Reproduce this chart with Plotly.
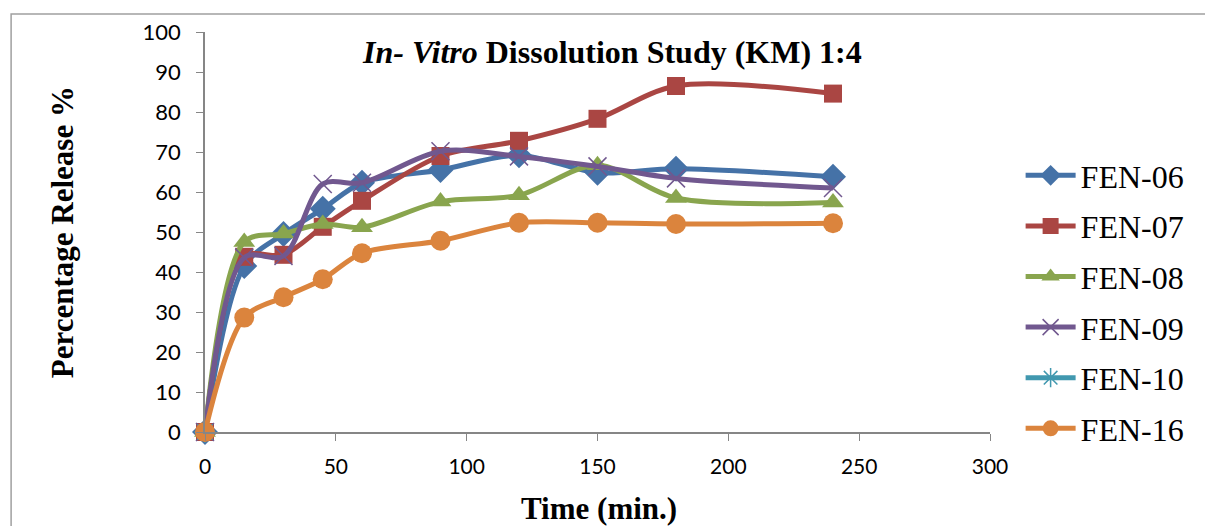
import plotly.graph_objects as go

time_min = [0, 15, 30, 45, 60, 90, 120, 150, 180, 240]
fen06 = [0, 41.5, 49.5, 55.8, 62.3, 65.5, 69.2, 64.8, 65.8, 63.8]
fen07 = [0, 43.8, 44.3, 51.3, 57.8, 69.0, 72.8, 78.3, 86.5, 84.6]
fen08 = [0, 47.5, 49.6, 52.0, 51.2, 57.6, 59.2, 66.7, 58.5, 57.4]
fen09 = [0, 43.6, 44.0, 62.0, 62.3, 70.2, 68.9, 66.4, 63.4, 61.0]
fen10_time = [0]
fen10 = [0]
fen16 = [0, 28.6, 33.7, 38.2, 44.7, 47.8, 52.3, 52.3, 52.0, 52.2]

y_ticks = [0, 10, 20, 30, 40, 50, 60, 70, 80, 90, 100]
x_ticks = [0, 50, 100, 150, 200, 250, 300]

series = [
    ("FEN-06", time_min, fen06, "#4572A7", "diamond", 20),
    ("FEN-07", time_min, fen07, "#AA4643", "square", 18),
    ("FEN-08", time_min, fen08, "#89A54E", "triangle-up", 19),
    ("FEN-09", time_min, fen09, "#71588F", "x-thin", 18),
    ("FEN-10", fen10_time, fen10, "#4198AF", "asterisk", 18),
    ("FEN-16", time_min, fen16, "#DB843D", "circle", 20),
]

fig = go.Figure()
for name, xs, ys, col, sym, sz in series:
    thin = sym in ("x-thin", "asterisk")
    fig.add_trace(go.Scatter(
        x=xs, y=ys, name=name, legendgroup=name,
        mode="lines+markers",
        line=dict(color=col, width=5, shape="spline", smoothing=0.9),
        marker=dict(symbol=sym, size=sz, color=col,
                    line=dict(color=col, width=1.5 if thin else 0)),
        cliponaxis=False,
    ))

fig.update_layout(
    width=1205, height=526,
    margin=dict(l=205, r=215, t=32, b=94),
    paper_bgcolor="white", plot_bgcolor="white",
    showlegend=True,
    legend=dict(
        x=1.039, y=0.71, xanchor="left", yanchor="top",
        font=dict(family="Liberation Serif", size=32, color="black"),
        tracegroupgap=6, itemwidth=50,
        bgcolor="rgba(0,0,0,0)",
    ),
    xaxis=dict(
        range=[0, 300], tickvals=x_ticks, ticktext=[str(v) for v in x_ticks],
        showgrid=False, zeroline=False, showline=True, linecolor="#868686", linewidth=1.5,
        ticks="outside", ticklen=7, tickcolor="#868686", ticklabelstandoff=8,
        tickfont=dict(family="Lato", size=21, color="black"),
    ),
    yaxis=dict(
        range=[0, 100], tickvals=y_ticks, ticktext=[str(v) for v in y_ticks],
        showgrid=False, zeroline=False, showline=True, linecolor="#868686", linewidth=1.5,
        ticks="outside", ticklen=7, tickcolor="#868686", ticklabelstandoff=11,
        tickfont=dict(family="Lato", size=22, color="black"),
    ),
    annotations=[
        dict(text="<b><i>In- Vitro</i> Dissolution Study (KM) 1:4</b>",
             xref="paper", yref="paper", x=0.519, y=0.95, xanchor="center", yanchor="middle",
             showarrow=False, font=dict(family="Liberation Serif", size=32, color="black")),
        dict(text="<b>Time (min.)</b>",
             xref="paper", yref="paper", x=0.502, y=-0.19, xanchor="center", yanchor="middle",
             showarrow=False, font=dict(family="Liberation Serif", size=31, color="black")),
        dict(text="<b>Percentage Release %</b>", textangle=-90,
             xref="paper", yref="paper", x=-0.182, y=0.5, xanchor="center", yanchor="middle",
             showarrow=False, font=dict(family="Liberation Serif", size=31, color="black")),
    ],
    shapes=[dict(
        type="rect", xref="paper", yref="paper",
        x0=-0.247, x1=1.3, y0=-0.4, y1=1.045,
        line=dict(color="#A0A0A0", width=1.5), fillcolor="rgba(0,0,0,0)", layer="below",
    )],
)

fig.write_html("out.html")
